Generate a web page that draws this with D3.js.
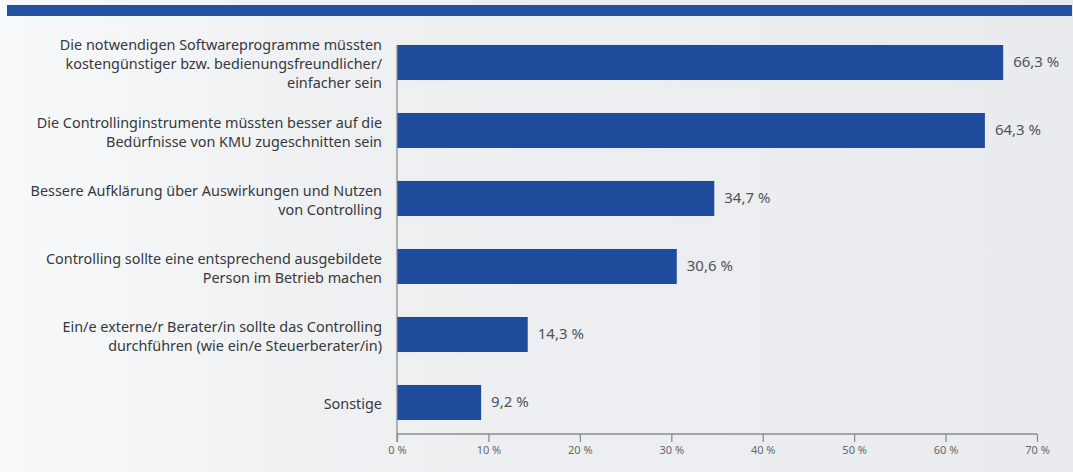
<!DOCTYPE html>
<html>
<head>
<meta charset="utf-8">
<script src="https://cdn.jsdelivr.net/npm/d3@7"></script>
<style>
  html, body { margin: 0; padding: 0; background: #eceef1; }
  svg { display: block; }
</style>
</head>
<body>
<svg id="chart" width="1073" height="472"></svg>
<script>
// Answers (multiple choice) – share of respondents in %
const categories = [
    ['Die notwendigen Softwareprogramme müssten', 'kostengünstiger bzw. bedienungsfreundlicher/', 'einfacher sein'],
    ['Die Controllinginstrumente müssten besser auf die', 'Bedürfnisse von KMU zugeschnitten sein'],
    ['Bessere Aufklärung über Auswirkungen und Nutzen', 'von Controlling'],
    ['Controlling sollte eine entsprechend ausgebildete', 'Person im Betrieb machen'],
    ['Ein/e externe/r Berater/in sollte das Controlling', 'durchführen (wie ein/e Steuerberater/in)'],
    ['Sonstige']
];
const values = [66.3, 64.3, 34.7, 30.6, 14.3, 9.2];
const valueLabels = ['66,3 %', '64,3 %', '34,7 %', '30,6 %', '14,3 %', '9,2 %'];
const ticks = [0, 10, 20, 30, 40, 50, 60, 70];

const width = 1073, height = 472;
const barColor = '#1f4b9d';
const font = '"Noto Sans", sans-serif';

const svg = d3.select('#chart');

// background (scanned page look: lighter at the left edge)
const defs = svg.append('defs');
const bg = defs.append('linearGradient').attr('id', 'bg')
    .attr('x1', '0%').attr('x2', '100%').attr('y1', '0%').attr('y2', '0%');
bg.append('stop').attr('offset', '0%').attr('stop-color', '#f8f9fa');
bg.append('stop').attr('offset', '30%').attr('stop-color', '#eef0f2');
bg.append('stop').attr('offset', '100%').attr('stop-color', '#e9ebef');
svg.append('rect').attr('width', width).attr('height', height).attr('fill', 'url(#bg)');

// top rule
svg.append('rect')
    .attr('x', 7).attr('y', 5)
    .attr('width', width - 8).attr('height', 11)
    .attr('fill', '#2251a2');

const x = d3.scaleLinear().domain([0, 70]).range([397, 1037]);
const y = d3.scaleBand()
    .domain(d3.range(values.length))
    .range([28.5, 436.5])
    .paddingInner(0.485)
    .paddingOuter(0.2425);

const axisY = 434;

// bars
svg.selectAll('.bar')
    .data(values)
    .enter()
    .append('rect')
    .attr('class', 'bar')
    .attr('x', x(0))
    .attr('y', (d, i) => y(i))
    .attr('width', d => x(d) - x(0))
    .attr('height', y.bandwidth())
    .attr('fill', barColor);

// vertical axis line
svg.append('line')
    .attr('x1', x(0)).attr('x2', x(0))
    .attr('y1', y(0)).attr('y2', axisY + 8)
    .attr('stroke', '#8a8c90').attr('stroke-width', 1.3);

// x axis
const xAxis = d3.axisBottom(x)
    .tickValues(ticks)
    .tickSize(8)
    .tickFormat(d => d + ' %');
const gx = svg.append('g')
    .attr('transform', `translate(0, ${axisY})`)
    .call(xAxis);
gx.select('.domain').attr('stroke', '#8a8c90').attr('stroke-width', 1.3)
    .attr('d', `M${x(0)},0H${x(70)}`);
gx.selectAll('.tick line').attr('stroke', '#8a8c90').attr('stroke-width', 1.3);
gx.selectAll('.tick text')
    .attr('fill', '#66686c')
    .attr('font-family', font)
    .attr('font-size', 11)
    .attr('dy', '0.85em');

// category labels
const lineH = 19;
svg.selectAll('.cat')
    .data(categories)
    .enter()
    .append('text')
    .attr('class', 'cat')
    .attr('text-anchor', 'end')
    .attr('font-family', font)
    .attr('font-size', 14.4)
    .attr('fill', '#36383d')
    .each(function (lines, i) {
        const cy = y(i) + y.bandwidth() / 2 + 3;
        const t = d3.select(this);
        lines.forEach((ln, k) => {
            t.append('tspan')
                .attr('x', 382)
                .attr('y', cy + (k - (lines.length - 1) / 2) * lineH)
                .attr('dominant-baseline', 'middle')
                .text(ln);
        });
    });

// value labels
svg.selectAll('.val')
    .data(values)
    .enter()
    .append('text')
    .attr('class', 'val')
    .attr('x', d => x(d) + 10)
    .attr('y', (d, i) => y(i) + y.bandwidth() / 2)
    .attr('dominant-baseline', 'middle')
    .attr('font-family', font)
    .attr('font-size', 15)
    .attr('fill', '#515358')
    .text((d, i) => valueLabels[i]);
</script>
</body>
</html>
